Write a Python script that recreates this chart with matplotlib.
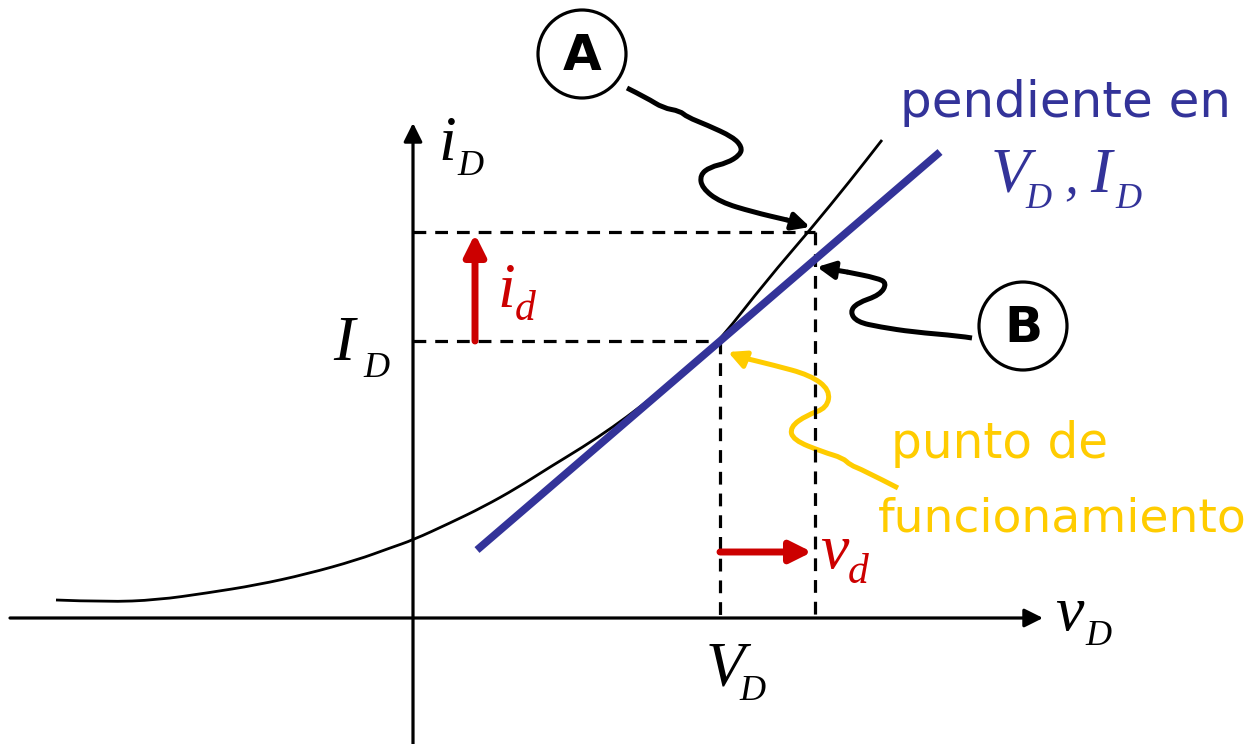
import matplotlib.pyplot as plt
from matplotlib.patches import Circle, PathPatch
from matplotlib.path import Path

# diode characteristic (pixel-space coordinates of the sketch)
curve_x = [56, 107, 157, 207, 257, 307, 357, 390, 413, 450, 483, 517, 550, 583, 613, 640, 670, 700,
           720, 767, 810, 850, 882]
curve_y = [600, 602, 600, 593, 585, 574, 560, 548, 540, 523, 507, 488, 467, 447, 427, 407, 383, 358,
           340, 280, 230, 181, 140]

# tangent at the operating point
tan_x = [477, 940]
tan_y = [550, 152]

# operating point and point A / B levels
VD, ID = 720, 341
vB, iA = 815, 232
axis_y, axis_x = 618, 413

# squiggly pointers
arrA_x = [627, 647, 663, 680, 687, 707, 733, 742, 740, 727, 710, 700, 702, 720, 753, 787, 810]
arrA_y = [88, 98, 108, 111, 117, 125, 137, 147, 155, 163, 167, 175, 188, 202, 212, 220, 227]
arrB_x = [972, 960, 913, 880, 857, 850, 857, 880, 887, 877, 847, 817]
arrB_y = [338, 336, 332, 327, 322, 312, 303, 295, 283, 278, 272, 267]
arrY_x = [898, 863, 850, 843, 823, 793, 790, 807, 827, 830, 810, 773, 740, 728]
arrY_y = [488, 470, 465, 458, 452, 440, 427, 415, 408, 390, 375, 365, 357, 352]

BLUE = '#333399'
RED = '#cc0000'
GOLD = '#ffcc00'
SERIF = 'Liberation Serif'
HAND = 'DejaVu Sans'

fig = plt.figure(figsize=(12.58, 7.44), dpi=100)
ax = fig.add_axes([0, 0, 1, 1])
ax.set_xlim(0, 1258)
ax.set_ylim(744, 0)
ax.axis('off')


def smooth_path(xs, ys):
    # quadratic bezier through the midpoints, the read points act as control points
    pts = list(zip(xs, ys))
    verts = [pts[0]]
    codes = [Path.MOVETO]
    for i in range(1, len(pts) - 1):
        mid = ((pts[i][0] + pts[i + 1][0]) / 2, (pts[i][1] + pts[i + 1][1]) / 2)
        verts += [pts[i], mid]
        codes += [Path.CURVE3, Path.CURVE3]
    verts.append(pts[-1])
    codes.append(Path.LINETO)
    return Path(verts, codes)


# axes
ax.annotate('', xy=(1043, axis_y), xytext=(10, axis_y),
            arrowprops=dict(arrowstyle='-|>', lw=2.3, color='black', mutation_scale=28, shrinkA=0, shrinkB=0))
ax.annotate('', xy=(axis_x, 123), xytext=(axis_x, 744),
            arrowprops=dict(arrowstyle='-|>', lw=2.3, color='black', mutation_scale=28, shrinkA=0, shrinkB=0))

# dashed guides
dash = dict(color='black', lw=2.3, dashes=(4, 2.8))
ax.plot([axis_x, vB], [iA, iA], **dash)
ax.plot([axis_x, VD], [ID, ID], **dash)
ax.plot([VD, VD], [ID, axis_y], **dash)
ax.plot([vB, vB], [iA, axis_y], **dash)

# curve and tangent
ax.add_patch(PathPatch(smooth_path(curve_x, curve_y), fill=False, lw=2, ec='black'))
ax.plot(tan_x, tan_y, color=BLUE, lw=5.5, solid_capstyle='butt')

# small-signal arrows
ax.annotate('', xy=(475, iA + 2), xytext=(475, ID),
            arrowprops=dict(arrowstyle='-|>', lw=5, color=RED, mutation_scale=32, shrinkA=0, shrinkB=0))
ax.annotate('', xy=(vB - 3, 552), xytext=(VD, 552),
            arrowprops=dict(arrowstyle='-|>', lw=5, color=RED, mutation_scale=32, shrinkA=0, shrinkB=0))


def squiggle(xs, ys, color):
    ax.add_patch(PathPatch(smooth_path(xs[:-1], ys[:-1]), fill=False, lw=3.6, ec=color,
                           capstyle='butt', joinstyle='round'))
    ax.annotate('', xy=(xs[-1], ys[-1]), xytext=(xs[-2], ys[-2]),
                arrowprops=dict(arrowstyle='-|>', lw=3.6, color=color, mutation_scale=26, shrinkA=0, shrinkB=0))


squiggle(arrA_x, arrA_y, 'black')
squiggle(arrB_x, arrB_y, 'black')
squiggle(arrY_x, arrY_y, GOLD)

# circled labels
for (cx, cy, s) in [(582, 54, 'A'), (1023, 326, 'B')]:
    ax.add_patch(Circle((cx, cy), 44, fill=False, lw=2.3, ec='black'))
    ax.text(cx, cy + 2, s, fontsize=36, fontweight='bold', family=HAND, ha='center', va='center')


def label(x, y, main, sub, color='black', dx=None, dy=16, size=46, subsize=26):
    ax.text(x, y, main, fontsize=size, family=SERIF, style='italic', color=color, va='baseline')
    ax.text(x + dx, y + dy, sub, fontsize=subsize, family=SERIF, style='italic', color=color, va='baseline')


label(438, 160, 'i', 'D', dx=19, dy=15)
label(333, 360, 'I', 'D', dx=30, dy=17)
label(497, 307, 'i', 'd', color=RED, dx=18, dy=13, subsize=30)
label(820, 568, 'v', 'd', color=RED, dx=28, dy=15, subsize=30)
label(1055, 630, 'v', 'D', dx=30, dy=15)
label(706, 685, 'V', 'D', dx=33, dy=15)
label(991, 192, 'V', 'D', color=BLUE, dx=34, dy=16)
ax.text(1064, 192, ',', fontsize=40, family=SERIF, style='italic', color=BLUE, va='baseline')
label(1090, 192, 'I', 'D', color=BLUE, dx=25, dy=16)

ax.text(1065, 117, 'pendiente en', fontsize=36, family=HAND, color=BLUE, ha='center', va='baseline')
ax.text(1000, 458, 'punto de', fontsize=35, family=HAND, color=GOLD, ha='center', va='baseline')
ax.text(1062, 532, 'funcionamiento', fontsize=34, family=HAND, color=GOLD, ha='center', va='baseline')

fig.savefig('out.png', dpi=100)
